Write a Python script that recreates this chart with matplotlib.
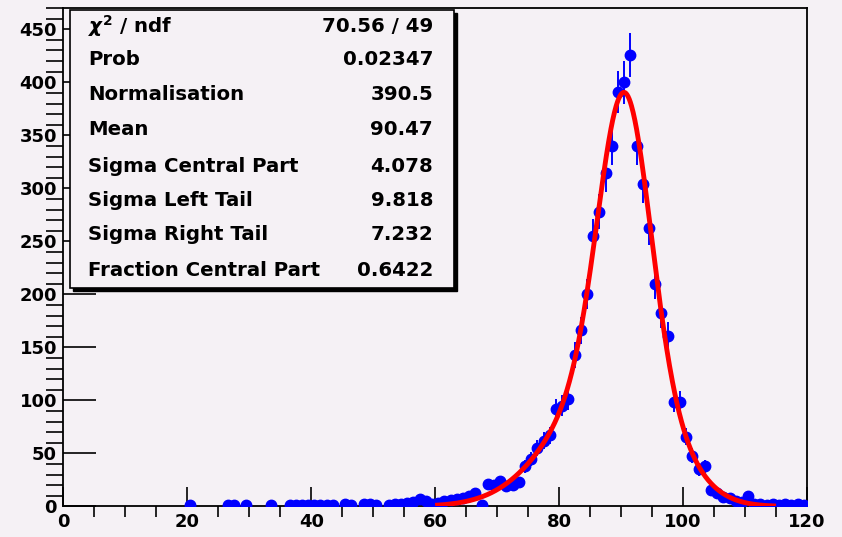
import numpy as np
import matplotlib.pyplot as plt
from matplotlib.patches import Rectangle
from matplotlib.ticker import MultipleLocator

# histogram contents (bin width 1, only filled bins)
bin_centers = [20.5, 26.5, 27.5, 29.5, 33.5,
               36.5, 37.5, 38.5, 39.5, 40.5, 41.5, 42.5, 43.5,
               45.5, 46.5, 48.5, 49.5, 50.5, 52.5, 53.5, 54.5,
               55.5, 56.5, 57.5, 58.5, 59.5,
               60.5, 61.5, 62.5, 63.5, 64.5, 65.5, 66.5, 67.5, 68.5, 69.5,
               70.5, 71.5, 72.5, 73.5, 74.5, 75.5, 76.5, 77.5, 78.5, 79.5,
               80.5, 81.5, 82.5, 83.5, 84.5, 85.5, 86.5, 87.5, 88.5, 89.5,
               90.5, 91.5, 92.5, 93.5, 94.5, 95.5, 96.5, 97.5, 98.5, 99.5,
               100.5, 101.5, 102.5, 103.5, 104.5, 105.5, 106.5, 107.5, 108.5, 109.5,
               110.5, 111.5, 112.5, 113.5, 114.5, 115.5, 116.5, 117.5, 118.5, 119.5]
counts = [1, 1, 1, 1, 1,
          1, 1, 1, 1, 1, 1, 1, 1,
          2, 1, 2, 2, 1, 1, 2, 2,
          3, 4, 7, 5, 2,
          3, 5, 6, 7, 8, 10, 13, 1, 21, 20,
          24, 19, 20, 23, 38, 45, 55, 62, 67, 92,
          95, 101, 143, 166, 200, 255, 278, 314, 340, 391,
          400, 426, 340, 304, 263, 210, 182, 161, 99, 99,
          66, 48, 35, 38, 16, 13, 9, 8, 5, 4,
          10, 2, 2, 1, 2, 1, 2, 1, 2, 1]

# fit result
fit_names = ['Normalisation', 'Mean', 'Sigma Central Part', 'Sigma Left Tail',
             'Sigma Right Tail', 'Fraction Central Part']
fit_values = [390.5, 90.47, 4.078, 9.818, 7.232, 0.6422]
chi2, ndf, prob = 70.56, 49, 0.02347
fit_range = (60, 115)


def peak_shape(x, norm, mean, s_core, s_left, s_right, frac):
    s_tail = np.where(x < mean, s_left, s_right)
    core = np.exp(-0.5 * ((x - mean) / s_core) ** 2)
    tail = np.exp(-0.5 * ((x - mean) / s_tail) ** 2)
    return norm * (frac * core + (1 - frac) * tail)


bg = '#f5f1f5'
plt.rcParams['font.family'] = 'DejaVu Sans'
plt.rcParams['font.weight'] = 'bold'

fig = plt.figure(figsize=(8.42, 5.37), dpi=100, facecolor=bg)
ax = fig.add_axes([0.0752, 0.0568, 0.8832, 0.9282], facecolor=bg)

x = np.array(bin_centers)
y = np.array(counts, dtype=float)
ax.errorbar(x, y, yerr=np.sqrt(y), xerr=0.5, fmt='o', color='#0000ff',
            ms=7.5, elinewidth=1.4, capsize=0, zorder=3)

xf = np.linspace(fit_range[0], fit_range[1], 600)
ax.plot(xf, peak_shape(xf, *fit_values), color='#ff0000', lw=3.5,
        solid_capstyle='butt', zorder=4)

ax.set_xlim(0, 120)
ax.set_ylim(0, 470)
ax.xaxis.set_major_locator(MultipleLocator(20))
ax.xaxis.set_minor_locator(MultipleLocator(5))
ax.yaxis.set_major_locator(MultipleLocator(50))
ax.yaxis.set_minor_locator(MultipleLocator(10))
ax.tick_params(direction='in', top=False, right=False, width=1.2,
               labelsize=13, pad=4.5, colors='black')
ax.tick_params(axis='x', which='major', length=14)
ax.tick_params(axis='x', which='minor', length=8, width=1.2)
ax.tick_params(axis='y', which='major', length=24)
ax.tick_params(axis='y', which='minor', length=12, width=1.2)
for lab in ax.get_xticklabels() + ax.get_yticklabels():
    lab.set_fontweight('bold')
for sp in ax.spines.values():
    sp.set_linewidth(1.3)

# stats box with shadow, in figure pixels
W, H = 842, 537
bx0, bx1, by0, by1 = 70, 454, 10, 288
fig.add_artist(Rectangle(((bx0 + 3) / W, 1 - (by1 + 3) / H), (bx1 - bx0) / W,
                         (by1 - by0) / H, transform=fig.transFigure,
                         facecolor='black', edgecolor='black', zorder=10))
fig.add_artist(Rectangle((bx0 / W, 1 - by1 / H), (bx1 - bx0) / W, (by1 - by0) / H,
                         transform=fig.transFigure, facecolor=bg,
                         edgecolor='black', lw=1.2, zorder=11))

labels = [r'$\chi^{2}$ / ndf', 'Prob'] + fit_names
values = ['%.2f / %d' % (chi2, ndf), '%.5f' % prob, '%.1f' % fit_values[0],
          '%.2f' % fit_values[1], '%.3f' % fit_values[2], '%.3f' % fit_values[3],
          '%.3f' % fit_values[4], '%.4f' % fit_values[5]]
rows = [26, 59.5, 94.5, 129.5, 166, 200.5, 235, 270]
for lab, val, ry in zip(labels, values, rows):
    fig.text(88 / W, 1 - ry / H, lab, fontsize=14.2, fontweight='bold',
             va='center', ha='left', zorder=12)
    fig.text(433 / W, 1 - ry / H, val, fontsize=14.2, fontweight='bold',
             va='center', ha='right', zorder=12)

fig.savefig('out.png', dpi=100, facecolor=bg)
